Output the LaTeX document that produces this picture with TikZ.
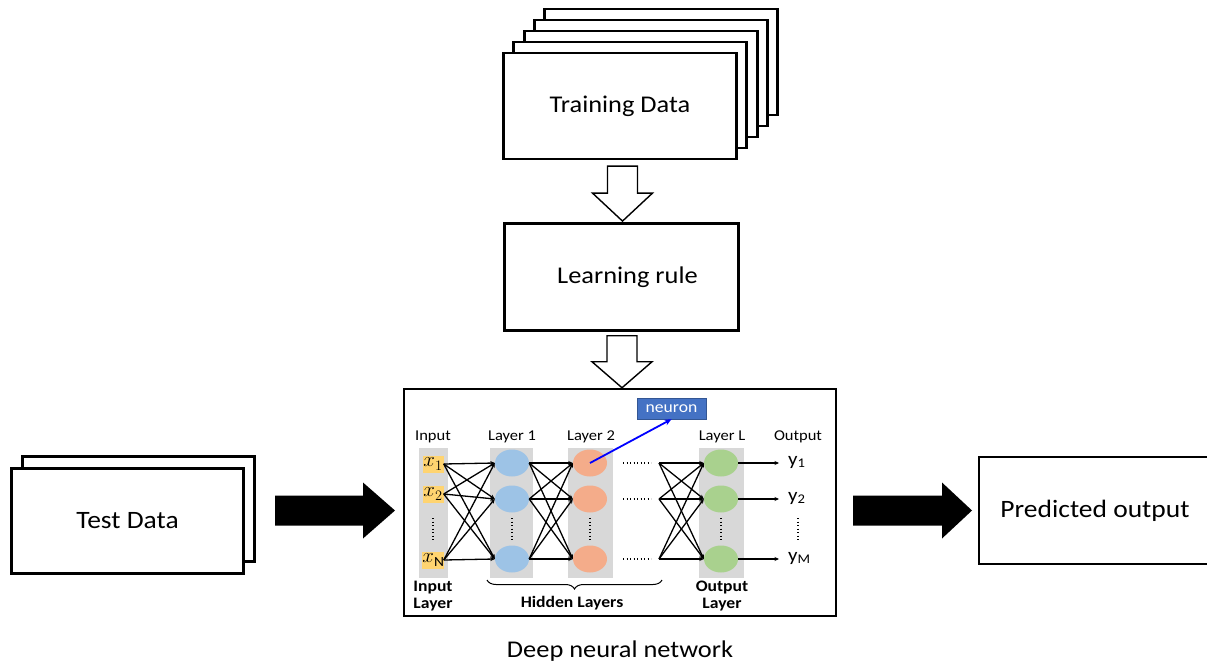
\documentclass[tikz,border=0pt]{standalone}
\usepackage{fontspec}
\setmainfont{Carlito}[FakeStretch=1.1]
\usetikzlibrary{shapes.geometric,arrows.meta,decorations.pathreplacing,calc}

\definecolor{colgray}{RGB}{216,216,216}
\definecolor{inyellow}{RGB}{255,212,112}
\definecolor{unitblue}{RGB}{157,195,230}
\definecolor{unitorange}{RGB}{244,172,138}
\definecolor{unitgreen}{RGB}{169,209,142}
\definecolor{neuronblue}{RGB}{68,114,196}

\tikzset{
  databox/.style={draw, line width=2.8pt, fill=white, minimum width=233pt,
    minimum height=106pt, inner sep=0pt, font=\fontsize{24}{28}\selectfont},
  hollow/.style={draw, line width=1.4pt, fill=white, line join=miter},
  column/.style={fill=colgray, draw=none},
  unit/.style={ellipse, minimum width=34pt, minimum height=27pt, inner sep=0pt},
  inbox/.style={fill=inyellow, minimum width=21pt, minimum height=17pt,
    inner sep=0pt, font=\fontsize{20}{20}\selectfont},
  wire/.style={line width=1.3pt, -{Stealth[length=4.5pt,width=4pt]}},
  lbl/.style={font=\fontsize{15}{17}\selectfont},
  blbl/.style={font=\bfseries\fontsize{16}{17}\selectfont, align=center},
  ylbl/.style={font=\fontsize{19}{19}\selectfont, inner sep=0pt, anchor=west},
  dotrow/.style={line width=1.7pt, dash pattern=on 1.2pt off 2.3pt},
}

\begin{document}
\begin{tikzpicture}[x=1pt,y=-1pt]
\useasboundingbox (0,0) rectangle (1207,664);

% ---------- training data stack ----------
\foreach \k in {4,3,2,1}
  \node[databox] (train\k) at (620+10.3*\k,106-11*\k) {};
\node[databox] (train) at (620,106) {Training Data};

% ---------- learning rule ----------
\node[databox, minimum width=234pt, minimum height=107pt] (learn) at (621.5,277) {\hspace*{12pt}Learning rule};

% ---------- network frame ----------
\node[draw, line width=2.5pt, minimum width=432pt, minimum height=227pt, inner sep=0pt]
  (dnn) at (620,502.5) {};
\node[font=\fontsize{24}{28}\selectfont] (caption) at (620,651) {Deep neural network};

% hollow arrows between the stages
\draw[hollow] ($(learn.north)+(-14,-56)$) -- ++(30,0) -- ++(0,27) -- ++(15,0)
  -- ++(-30,28) -- ++(-30,-28) -- ++(15,0) -- cycle;
\draw[hollow] ($(dnn.north)+(-13,-52)$) -- ++(30,0) -- ++(0,26) -- ++(15,0)
  -- ++(-30,26) -- ++(-30,-26) -- ++(15,0) -- cycle;

% ---------- test data stack ----------
\node[databox, minimum width=232pt, minimum height=105pt] (test1) at (138.5,509) {};
\node[databox, minimum width=232pt, minimum height=105pt,
  font=\fontsize{25}{28}\selectfont] (test) at (127.5,521) {Test Data};

% ---------- predicted output (runs off the right edge) ----------
\node[databox, minimum width=240pt, minimum height=107pt, font=\fontsize{25}{28}\selectfont]
  (pred) at (1099,510.5) {Predicted output\hspace*{8pt}};

% solid block arrows
\coordinate (inArrow) at (275,510.5);
\fill (inArrow) ++(0,-15) -- ++(88,0) -- ++(0,-13) -- ++(32,28) -- ++(-32,28)
  -- ++(0,-13) -- ++(-88,0) -- cycle;
\coordinate (outArrow) at (853,510.5);
\fill (outArrow) ++(0,-15) -- ++(89,0) -- ++(0,-13) -- ++(30,28) -- ++(-30,28)
  -- ++(0,-13) -- ++(-89,0) -- cycle;

% ---------- network internals ----------
\fill[column] (419,448) rectangle (448,578);
\fill[column] (490,448) rectangle (533,578);
\fill[column] (568,448) rectangle (613,578);
\fill[column] (699,448) rectangle (744,578);

\node[lbl] (tIn) at (433,437) {Input};
\node[lbl] (tL1) at (512,437) {Layer 1};
\node[lbl] (tL2) at (591,437) {Layer 2};
\node[lbl] (tLL) at (722,437) {Layer L};
\node[lbl] (tOut) at (798,437) {Output};

\node[inbox] (i1) at (433,464) {$x_1$};
\node[inbox] (i2) at (433,494) {$x_2$};
\node[inbox] (iN) at (433,560) {$x_{\mathrm{N}}$};

\foreach \r/\y in {1/463,2/499,N/559} {
  \node[unit, fill=unitblue] (a\r) at (512,\y) {};
  \node[unit, fill=unitorange] (b\r) at (590,\y) {};
  \node[unit, fill=unitgreen] (c\r) at (721,\y) {};
  \coordinate (d\r) at (659,\y);
  \draw[dotrow] (623,\y) -- (651,\y);
}

% vertical ellipses in each column
\foreach \x in {433,512,590,721,798}
  \draw[dotrow] (\x,518) -- (\x,541);

% full connections
\foreach \s in {1,2,N}
  \foreach \t in {1,2,N} {
    \draw[wire] (i\s.east) -- (a\t.west);
    \draw[wire] (a\s.east) -- (b\t.west);
    \draw[wire] (d\s) -- (c\t.west);
  }

% outputs
\node[ylbl] (y1) at (788,462) {y\textsubscript{1}};
\node[ylbl] (y2) at (788,498) {y\textsubscript{2}};
\node[ylbl] (yM) at (788,558) {y\textsubscript{M}};
\draw[wire] (c1.east) -- ([xshift=-9pt]y1.west |- c1);
\draw[wire] (c2.east) -- ([xshift=-9pt]y2.west |- c2);
\draw[wire] (cN.east) -- ([xshift=-9pt]yM.west |- cN);

% neuron callout
\node[fill=neuronblue, draw=neuronblue!75!black, line width=0.4pt, text=white,
  minimum width=69pt, minimum height=21pt, inner sep=0pt,
  font=\fontsize{16}{16}\selectfont] (neuron) at (671.5,408.5) {neuron};
\draw[blue, line width=1.8pt, -{Stealth[length=7pt,width=6pt]}] (b1.center) -- (neuron.south);

% layer captions below
\draw[decorate, decoration={brace, mirror, amplitude=9pt}, line width=1pt] (487,580) -- (662,580);
\node[blbl] (bIn) at (433,596) {Input\\Layer};
\node[blbl] (bHid) at (572,603) {Hidden Layers};
\node[blbl] (bOut) at (722,596) {Output\\Layer};
\end{tikzpicture}
\end{document}
